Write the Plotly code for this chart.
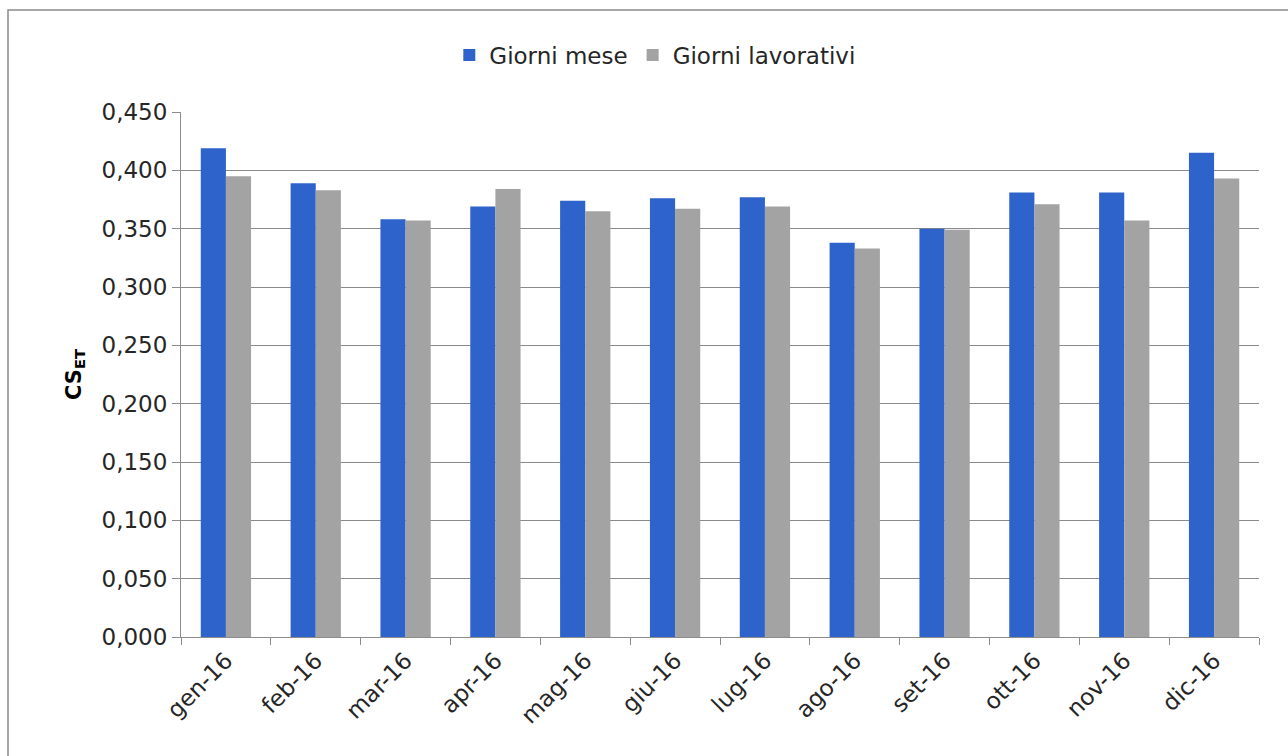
import plotly.graph_objects as go

# Monthly CS_ET values, 2016
months = ["gen-16", "feb-16", "mar-16", "apr-16", "mag-16", "giu-16",
          "lug-16", "ago-16", "set-16", "ott-16", "nov-16", "dic-16"]
giorni_mese = [0.419, 0.389, 0.358, 0.369, 0.374, 0.376,
               0.377, 0.338, 0.350, 0.381, 0.381, 0.415]
giorni_lavorativi = [0.395, 0.383, 0.357, 0.384, 0.365, 0.367,
                     0.369, 0.333, 0.349, 0.371, 0.357, 0.393]
y_ticks = [0.0, 0.05, 0.1, 0.15, 0.2, 0.25, 0.3, 0.35, 0.4, 0.45]
y_tick_text = [f"{v:.3f}".replace(".", ",") for v in y_ticks]

W, H = 1288, 756
L, R, T, B = 181, 29, 112, 119
pw, ph = W - L - R, H - T - B

def px_x(p):
    return (p - L) / pw

def px_y(p):
    return (H - B - p) / ph

FONT = "DejaVu Sans"
TXT = "#262626"

fig = go.Figure()
fig.add_trace(go.Bar(name="Giorni mese", x=months, y=giorni_mese,
                     marker=dict(color="#2F63CC", line=dict(width=0))))
fig.add_trace(go.Bar(name="Giorni lavorativi", x=months, y=giorni_lavorativi,
                     marker=dict(color="#A3A3A3", line=dict(width=0))))

fig.update_layout(
    width=W, height=H,
    margin=dict(l=L, r=R, t=T, b=B),
    paper_bgcolor="white", plot_bgcolor="white",
    barmode="group", bargap=0.44, bargroupgap=0,
    font=dict(family=FONT, size=23, color=TXT),
    showlegend=True,
    legend=dict(orientation="h", x=0.44, xanchor="center",
                y=px_y(55), yanchor="middle",
                font=dict(size=23, color=TXT), itemwidth=30,
                bgcolor="rgba(0,0,0,0)"),
    xaxis=dict(
        type="category", tickangle=-45, tickson="boundaries",
        ticks="outside", ticklen=7, tickcolor="#8c8c8c",
        showline=True, linecolor="#8c8c8c", linewidth=1,
        showgrid=False, tickfont=dict(size=23, color=TXT),
    ),
    yaxis=dict(
        range=[0, 0.45], tickvals=y_ticks, ticktext=y_tick_text,
        ticks="outside", ticklen=8, tickcolor="#8c8c8c",
        showline=True, linecolor="#8c8c8c", linewidth=1,
        showgrid=True, gridcolor="#8a8a8a", gridwidth=1,
        zeroline=False, tickfont=dict(size=23, color=TXT),
        title=dict(text="<b>CS</b><sub><b>ET</b></sub>", standoff=14,
                   font=dict(size=21, color="#000000")),
    ),
    shapes=[dict(type="rect", xref="paper", yref="paper",
                 x0=px_x(8), x1=px_x(1300), y0=px_y(770), y1=px_y(10),
                 line=dict(color="#8a8a8a", width=1.5),
                 fillcolor="rgba(0,0,0,0)", layer="below")],
)

fig.write_html("out.html")
